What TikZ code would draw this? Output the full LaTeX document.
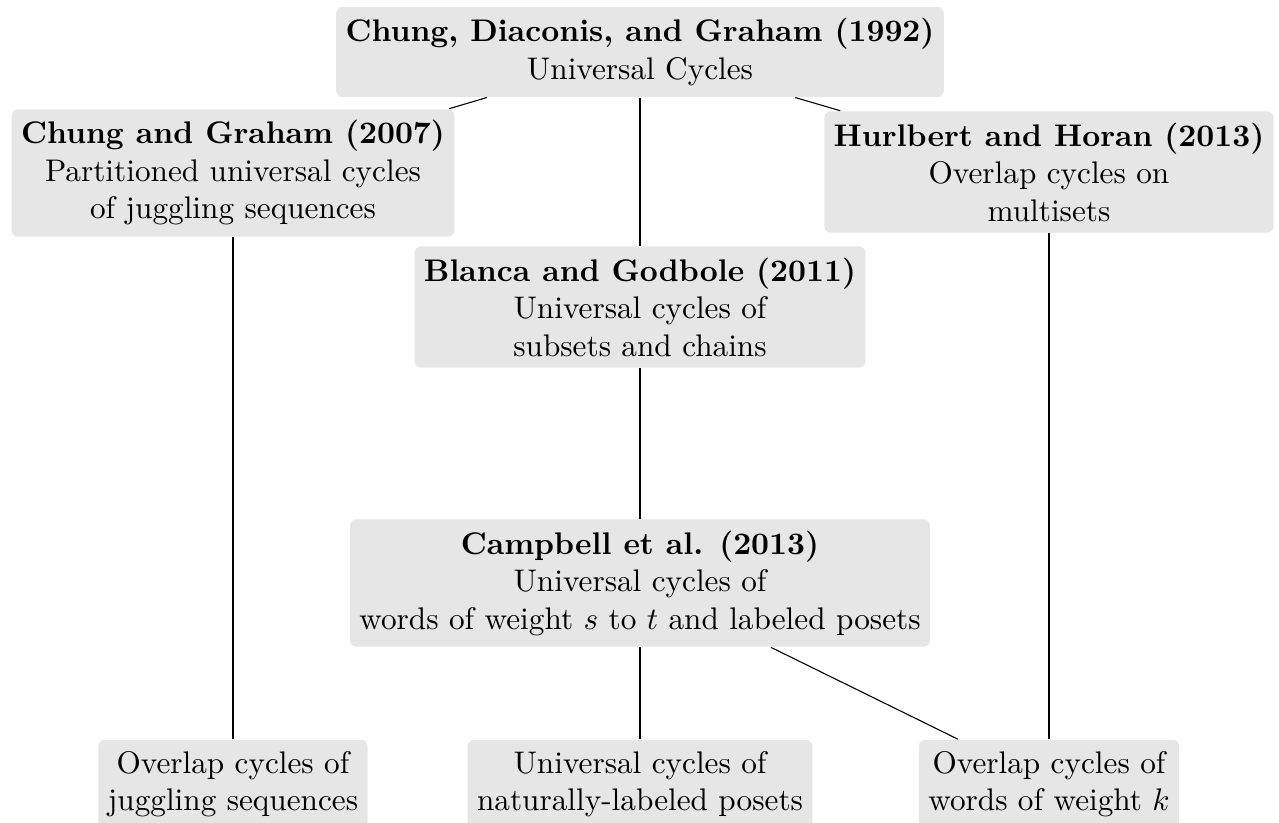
\documentclass[tikz,border=0pt]{standalone}
\usepackage{amsmath,amssymb}
\usepackage{tikz}
\usetikzlibrary{positioning}
\definecolor{boxgray}{HTML}{E6E6E6}

\begin{document}
\begin{tikzpicture}[x=0.32pt,y=-0.32pt,
  box/.style={fill=boxgray,rounded corners=2pt,align=center,inner xsep=3pt,inner ysep=3.6pt},
  link/.style={black,line width=0.35pt}]
\useasboundingbox (0,0) rectangle (1279,823);
\node[box] (cdg) at (640,52) {\textbf{Chung, Diaconis, and Graham (1992)}\\Universal Cycles};
\node[box] (cg) at (233,173) {\textbf{Chung and Graham (2007)}\\Partitioned universal cycles\\of juggling sequences};
\node[box] (hh) at (1049,172) {\textbf{Hurlbert and Horan (2013)}\\Overlap cycles on\\multisets};
\node[box] (bg) at (640,307) {\textbf{Blanca and Godbole (2011)}\\Universal cycles of\\subsets and chains};
\node[box] (camp) at (640,583) {\textbf{Campbell et al. (2013)}\\Universal cycles of\\words of weight $s$ to $t$ and labeled posets};
\node[box] (jug) at (233,784) {Overlap cycles of\\juggling sequences};
\node[box] (nat) at (640,784) {Universal cycles of\\naturally-labeled posets};
\node[box] (wt) at (1049,784) {Overlap cycles of\\words of weight $k$};
\draw[link] (cdg)--(cg);
\draw[link] (cdg)--(hh);
\draw[link] (cdg)--(bg);
\draw[link] (bg)--(camp);
\draw[link] (cg)--(jug);
\draw[link] (hh)--(wt);
\draw[link] (camp)--(nat);
\draw[link] (camp)--(wt);
\end{tikzpicture}
\end{document}
